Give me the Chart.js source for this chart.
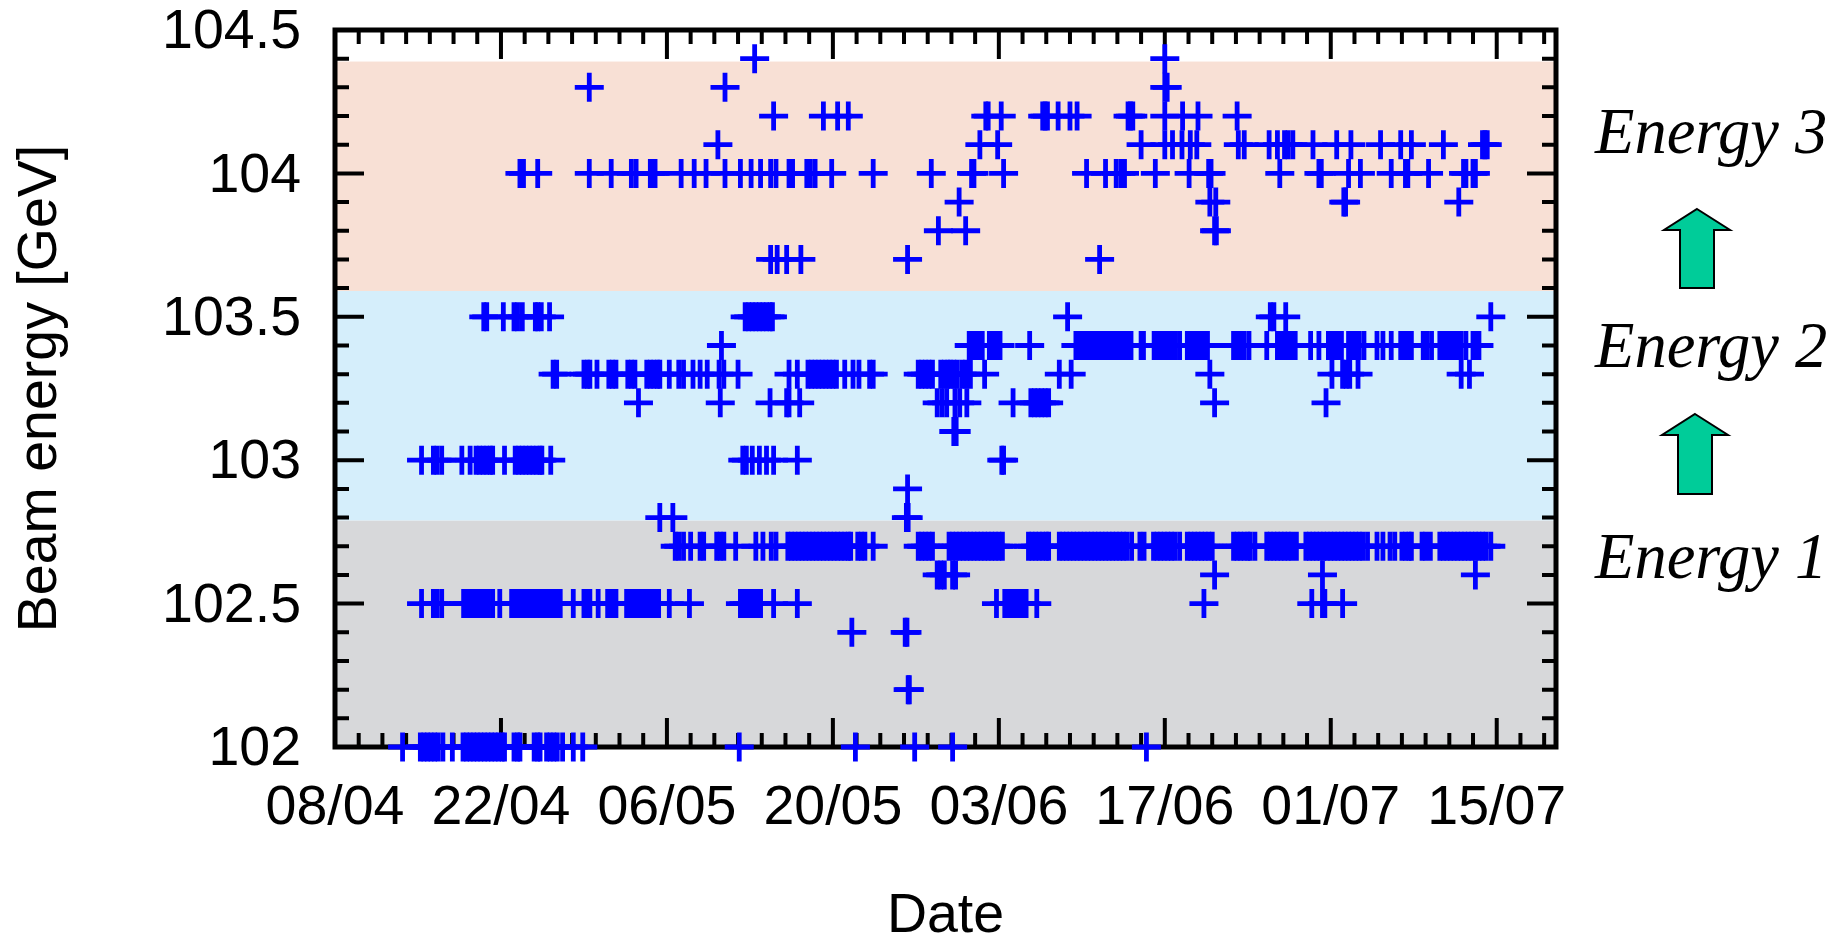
<!DOCTYPE html>
<html>
<head>
<meta charset="utf-8">
<title>Beam energy</title>
<script src="https://cdn.jsdelivr.net/npm/chart.js@4/dist/chart.umd.js"></script>
<style>
  html, body { margin: 0; padding: 0; background: #fff; overflow: hidden; }
  canvas { display: block; }
</style>
</head>
<body>
<canvas id="beamChart" width="1841" height="937"></canvas>
<script>
// x values are days since 08/04
const xTickLabels = ["08/04", "22/04", "06/05", "20/05", "03/06", "17/06", "01/07", "15/07"];
const yTickLabels = ["102", "102.5", "103", "103.5", "104", "104.5"];

const bandLimits = [102, 102.79, 103.59, 104.39];
const bandColors = ["#D7D8DA", "#D5EEFB", "#F8E0D5"];
const energyNames = ["Energy 3", "Energy 2", "Energy 1"];

const e1044 = [35.4, 70.0];
const e1043 = [21.45, 32.9, 70.0, 70.2];
const e1042 = [37.0, 41.2, 42.4, 43.3, 54.9, 55.1, 56.2, 59.7, 59.9, 60.1, 61.0, 62.0, 62.6, 66.9, 67.1, 67.3, 70.0, 71.5, 72.8, 76.1];
const e1041 = [32.3, 54.4, 55.9, 68.0, 70.0, 70.65, 71.45, 72.15, 72.7, 76.2, 76.7, 78.8, 79.5, 80.1, 80.4, 80.8, 82.5, 84.5, 85.7, 88.2, 89.9, 90.8, 93.5, 96.8, 97.0, 97.2];
const e1040 = [15.6, 15.9, 17.1, 21.45, 23.3, 25.0, 25.4, 26.6, 26.8, 27.0, 29.2, 30.3, 31.3, 32.9, 34.2, 35.1, 35.9, 36.75, 37.2, 38.3, 38.6, 39.8, 40.1, 40.5, 41.9, 45.4, 50.3, 53.7, 53.9, 56.4, 63.4, 65.0, 65.9, 66.3, 66.6, 69.2, 72.05, 73.7, 73.9, 79.7, 83.0, 83.2, 85.5, 86.5, 89.1, 90.3, 90.5, 92.25, 95.2, 95.4, 96.0, 96.2];
const e1039 = [52.65, 73.8, 74.3, 85.1, 85.25, 94.8];
const e1038 = [50.9, 53.2, 74.2, 74.35];
const e1037 = [36.75, 37.3, 38.1, 39.3, 48.3, 64.5];
const e1035 = [12.55, 12.8, 14.2, 15.1, 15.4, 15.8, 16.9, 17.1, 17.4, 18.1, 34.6, 34.9, 35.2, 35.5, 35.8, 36.1, 36.4, 36.7, 36.9, 61.8, 78.9, 79.2, 80.2, 97.5];
const e1034 = [32.6, 53.5, 53.8, 54.1, 54.4, 54.6, 55.2, 55.5, 55.8, 56.1, 58.6,
  62.5, 62.8, 63.1, 63.4, 63.7, 64.0, 64.3, 64.6, 64.9, 65.2, 65.5, 65.8, 66.1, 66.4, 66.7, 67.0, 67.15, 68.0, 68.2,
  69.1, 69.4, 69.7, 70.0, 70.3, 70.6, 70.9, 71.25, 71.9, 72.2, 72.5, 72.8, 73.1, 73.4, 73.6,
  75.8, 76.1, 76.4, 76.7, 77.1, 78.6, 79.5, 79.8, 80.1, 80.4, 80.7, 81.0, 82.3, 83.0,
  83.8, 84.1, 84.4, 84.7, 84.9, 85.5, 85.8, 86.1, 86.4, 86.8, 87.9, 88.4, 89.1,
  89.9, 90.2, 90.5, 90.8, 91.8, 92.1, 92.5, 93.2, 93.5, 93.8, 94.1, 94.4, 94.7, 95.0, 95.4, 96.0, 96.3, 96.5];
const e1033 = [18.4, 18.7, 21.0, 21.3, 21.5, 22.1, 23.1, 23.4, 23.7, 24.7, 25.0, 25.3,
  26.3, 26.6, 26.9, 27.2, 27.4, 28.2, 29.0, 29.4, 30.2, 30.8, 31.4, 32.4, 32.8, 34.0, 38.3, 39.0,
  39.9, 40.2, 40.5, 40.8, 41.1, 41.4, 41.7, 42.0, 42.3, 43.0, 43.7, 44.2, 45.1, 45.4,
  49.2, 49.5, 49.8, 50.1, 50.4, 51.1, 51.4, 51.7, 51.9, 52.2, 52.5, 52.9, 53.2, 53.6, 54.8, 61.1, 62.1, 73.8, 84.1, 85.0, 85.3, 85.6, 86.3, 95.0, 95.7];
const e1032 = [25.6, 32.5, 36.7, 38.1, 38.3, 39.2, 50.8, 51.2, 51.6, 52.3, 52.7, 53.3, 57.2, 58.7, 59.0, 59.3, 59.6, 59.9, 60.2, 74.2, 83.6];
const e1031 = [52.2, 52.4];
const e1030 = [7.3, 8.3, 8.6, 9.0, 10.7, 11.4, 11.9, 12.2, 12.5, 12.8, 13.1, 13.3, 14.3, 15.2, 15.5, 15.8, 16.1, 16.4, 16.7, 17.0, 17.3, 17.45, 18.2, 34.4, 34.7, 35.2, 35.8, 36.4, 37.0, 39.0, 56.25, 56.4];
const e1029 = [48.3];
const e1028 = [27.4, 28.5, 48.2, 48.35];
const e1027 = [28.7, 29.0, 29.4, 30.0, 30.8, 31.1, 32.2, 32.5, 32.8, 33.8, 35.5, 36.1, 36.8, 37.2,
  38.2, 38.5, 38.8, 39.1, 39.4, 39.7, 40.0, 40.3, 40.6, 40.9, 41.2, 41.5, 41.8, 42.1, 42.4, 42.7, 43.0, 43.3, 43.5, 44.1, 44.4, 44.7, 45.4,
  49.2, 49.5, 49.8, 50.1, 50.4, 51.8, 52.1, 52.4, 52.7, 53.0, 53.3, 53.6, 53.9, 54.2, 54.5, 54.8, 55.1, 55.4, 55.7, 56.0, 56.3,
  58.5, 58.8, 59.1, 59.4, 59.7, 60.0, 60.2, 61.1, 61.4, 61.7, 62.0, 62.3, 62.6, 62.9, 63.2, 63.5, 63.8, 64.1, 64.4, 64.7, 65.0, 65.3, 65.6, 65.9, 66.2, 66.5, 66.8, 67.2,
  67.9, 68.25, 69.05, 69.35, 69.65, 69.95, 70.25, 70.55, 70.85, 71.25, 71.9, 72.2, 72.5, 72.8, 73.1, 73.4, 73.7, 74.0,
  75.8, 76.1, 76.4, 76.7, 77.0, 77.2, 77.6, 78.6, 78.9, 79.2, 79.5, 79.8, 80.1, 80.4, 80.7, 81.1,
  81.9, 82.2, 82.5, 82.8, 83.1, 83.4, 83.7, 84.0, 84.3, 84.6, 84.9, 85.2, 85.5, 85.8, 86.1, 86.4, 86.7, 87.1,
  87.9, 88.4, 89.0, 89.4, 90.0, 90.3, 90.6, 90.8, 91.7, 92.0, 92.4,
  93.2, 93.5, 93.8, 94.1, 94.4, 94.7, 95.0, 95.3, 95.6, 95.9, 96.2, 96.5, 96.8, 97.1, 97.5];
const e1026 = [50.8, 51.1, 51.4, 52.1, 52.35, 74.2, 83.3, 96.2];
const e1025 = [7.3, 8.3, 8.6, 9.0, 10.85, 11.15, 11.45, 11.75, 12.05, 12.35, 12.65, 12.95, 13.3, 13.9,
  14.9, 15.2, 15.5, 15.8, 16.1, 16.4, 16.7, 17.0, 17.3, 17.6, 17.9, 18.2, 18.5, 18.8, 19.0, 20.1, 21.0, 21.3, 21.5, 22.2, 23.0, 23.4, 23.7,
  24.6, 24.9, 25.2, 25.5, 25.8, 26.1, 26.4, 26.7, 27.0, 27.3, 28.2, 29.9,
  34.2, 34.5, 34.8, 35.1, 35.4, 35.7, 35.9, 37.0, 39.0, 55.8, 56.5, 56.8, 57.1, 57.4, 57.7, 58.0, 58.3, 59.2, 73.3, 82.4, 83.3, 83.5, 85.0];
const e1024 = [43.6, 48.1, 48.25];
const e1022 = [48.35, 48.45];
const e1020 = [5.7, 7.2, 7.5, 7.8, 8.1, 8.4, 8.7, 9.1, 9.9, 10.8, 11.1, 11.4, 11.7, 12.0, 12.3, 12.6, 12.9, 13.2, 13.5, 13.8, 14.1, 14.3, 15.1, 15.4, 15.6, 16.8, 17.1, 17.3, 17.85, 18.15, 18.45, 18.75, 19.2, 20.1, 20.9, 34.1, 43.9, 48.9, 52.1, 68.45];

const levels = [
  [104.4, e1044], [104.3, e1043], [104.2, e1042], [104.1, e1041], [104.0, e1040], [103.9, e1039], [103.8, e1038], [103.7, e1037],
  [103.5, e1035], [103.4, e1034], [103.3, e1033], [103.2, e1032], [103.1, e1031], [103.0, e1030], [102.9, e1029], [102.8, e1028],
  [102.7, e1027], [102.6, e1026], [102.5, e1025], [102.4, e1024], [102.2, e1022], [102.0, e1020]
];
const points = levels.flatMap(([y, days]) => days.map((x) => ({ x, y })));

function drawArrow(ctx, tipX, tipY, neckY, baseY) {
  ctx.beginPath();
  ctx.moveTo(tipX, tipY);
  ctx.lineTo(tipX + 33, neckY);
  ctx.lineTo(tipX + 17, neckY);
  ctx.lineTo(tipX + 17, baseY);
  ctx.lineTo(tipX - 17, baseY);
  ctx.lineTo(tipX - 17, neckY);
  ctx.lineTo(tipX - 33, neckY);
  ctx.closePath();
  ctx.fillStyle = "#00CC99";
  ctx.fill();
  ctx.lineWidth = 2;
  ctx.strokeStyle = "#000";
  ctx.stroke();
}

const framePlugin = {
  id: "frame",
  beforeDatasetsDraw(chart) {
    const { ctx, chartArea: a, scales: { x, y } } = chart;
    ctx.save();

    bandColors.forEach((color, i) => {
      const top = y.getPixelForValue(bandLimits[i + 1]);
      ctx.fillStyle = color;
      ctx.fillRect(a.left, top, a.right - a.left, y.getPixelForValue(bandLimits[i]) - top);
    });

    ctx.strokeStyle = "#000";
    ctx.lineWidth = 4;
    ctx.beginPath();
    for (let d = 0; d <= 102; d += 2) {
      const px = x.getPixelForValue(d);
      const len = d % 14 === 0 ? 29 : 14;
      ctx.moveTo(px, a.top);
      ctx.lineTo(px, a.top + len);
      ctx.moveTo(px, a.bottom);
      ctx.lineTo(px, a.bottom - len);
    }
    for (let n = 0; n <= 25; n++) {
      const py = y.getPixelForValue(102 + n / 10);
      const len = n % 5 === 0 ? 29 : 14;
      ctx.moveTo(a.left, py);
      ctx.lineTo(a.left + len, py);
      ctx.moveTo(a.right, py);
      ctx.lineTo(a.right - len, py);
    }
    ctx.stroke();

    ctx.lineWidth = 5;
    ctx.strokeRect(a.left, a.top, a.right - a.left, a.bottom - a.top);
    ctx.restore();
  },
  afterDraw(chart) {
    const { ctx } = chart;
    ctx.save();
    ctx.fillStyle = "#000";
    ctx.font = "italic 64.5px 'Liberation Serif'";
    ctx.textAlign = "left";
    ctx.textBaseline = "alphabetic";
    ctx.fillText(energyNames[0], 1595, 153);
    ctx.fillText(energyNames[1], 1595, 367);
    ctx.fillText(energyNames[2], 1595, 578);
    drawArrow(ctx, 1697, 209, 230, 288);
    drawArrow(ctx, 1695, 414, 435, 494);
    ctx.restore();
  }
};

new Chart(document.getElementById("beamChart"), {
  type: "scatter",
  data: {
    datasets: [{
      data: points,
      pointStyle: "cross",
      pointRadius: 14.5,
      pointBorderWidth: 4.8,
      pointBorderColor: "#0000FF",
      pointBackgroundColor: "#0000FF",
      clip: false
    }]
  },
  options: {
    responsive: false,
    animation: false,
    layout: { padding: { top: 30, right: 285, left: 0, bottom: 0 } },
    plugins: { legend: { display: false }, tooltip: { enabled: false } },
    scales: {
      x: {
        type: "linear",
        min: 0,
        max: 103,
        grid: { display: false },
        border: { display: false },
        afterFit: (scale) => {
          scale.height = 190;
          scale.paddingLeft = 0;
          scale.paddingRight = 0;
        },
        ticks: {
          stepSize: 14,
          includeBounds: false,
          autoSkip: false,
          maxRotation: 0,
          padding: 20,
          color: "#000",
          font: { family: "'Liberation Sans'", size: 55.5 },
          callback: (v) => xTickLabels[v / 14]
        },
        title: {
          display: true,
          text: "Date",
          color: "#000",
          font: { family: "'Liberation Sans'", size: 55.5, lineHeight: 1 },
          padding: { top: 0, bottom: -7 }
        }
      },
      y: {
        min: 102,
        max: 104.5,
        grid: { display: false },
        border: { display: false },
        afterFit: (scale) => {
          scale.width = 335;
          scale.paddingTop = 0;
          scale.paddingBottom = 0;
        },
        ticks: {
          stepSize: 0.5,
          autoSkip: false,
          padding: 26,
          labelOffset: 3,
          color: "#000",
          font: { family: "'Liberation Sans'", size: 55.5 },
          callback: (v) => yTickLabels[Math.round((v - 102) * 2)]
        },
        title: {
          display: true,
          text: "Beam energy [GeV]",
          color: "#000",
          font: { family: "'Liberation Sans'", size: 55.5, lineHeight: 1 },
          padding: { top: 13, bottom: 0 }
        }
      }
    }
  },
  plugins: [framePlugin]
});
</script>
</body>
</html>
